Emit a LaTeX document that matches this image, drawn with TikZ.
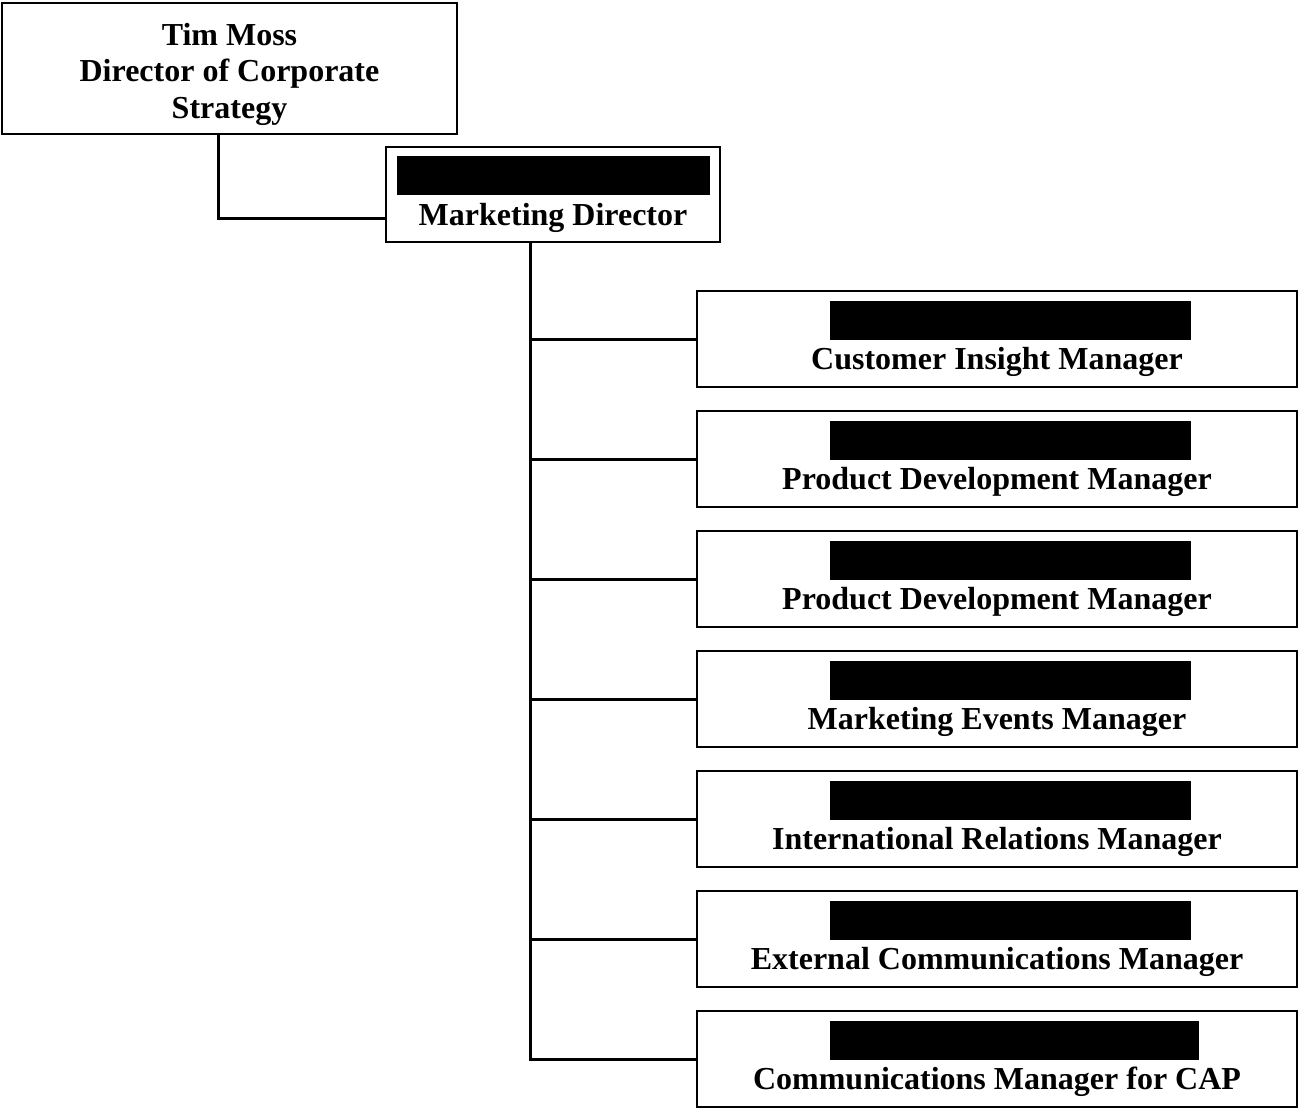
\documentclass[tikz,border=0pt]{standalone}
\usepackage{fontspec}
\setmainfont{Liberation Serif}
\usetikzlibrary{positioning}

% redacted name line, left edge kept at the same place
\newcommand{\blackbar}[1][361pt]{\hspace*{\dimexpr#1-334pt\relax}\rule{#1}{39pt}}

\tikzset{
  chartbox/.style={draw, line width=1.5pt, align=center, inner sep=0pt,
    font=\fontsize{32pt}{36.5pt}\selectfont\bfseries},
  staffbox/.style={chartbox, minimum width=600pt, minimum height=96pt},
  link/.style={line width=3pt}
}

\begin{document}
\begin{tikzpicture}[x=1pt,y=-1pt]
  \useasboundingbox (0,0) rectangle (1300,1108);

  \node[chartbox, minimum width=455pt, minimum height=131pt] (tm) at (229.5,68.5) {\rule{0pt}{34pt}Tim Moss\\Director of Corporate\\Strategy};
  \node[chartbox, minimum width=334pt, minimum height=95pt] (md) at (553,194.5) {\rule{313pt}{39pt}\\[-6.5pt]Marketing Director};

  \node[staffbox] (ci) at (997,339) {\blackbar\\[-6.5pt]Customer Insight Manager};
  \node[staffbox, below=22.5pt of ci] (pdone) {\blackbar\\[-6.5pt]Product Development Manager};
  \node[staffbox, below=22.5pt of pdone] (pdtwo) {\blackbar\\[-6.5pt]Product Development Manager};
  \node[staffbox, below=22.5pt of pdtwo] (me) {\blackbar\\[-6.5pt]Marketing Events Manager};
  \node[staffbox, below=22.5pt of me] (ir) {\blackbar\\[-6.5pt]International Relations Manager};
  \node[staffbox, below=22.5pt of ir] (ec) {\blackbar\\[-6.5pt]External Communications Manager};
  \node[staffbox, below=22.5pt of ec] (cap) {\blackbar[369pt]\\[-6.5pt]Communications Manager for CAP};

  \draw[link] ([xshift=-11.5pt]tm.south) |- ([yshift=-23.5pt]md.west);
  \coordinate (trunk) at ([xshift=-23pt]md.south);
  \draw[link] (trunk) |- (cap.west);
  \foreach \n in {ci,pdone,pdtwo,me,ir,ec}
    \draw[link] (trunk |- \n.west) -- (\n.west);
\end{tikzpicture}
\end{document}
